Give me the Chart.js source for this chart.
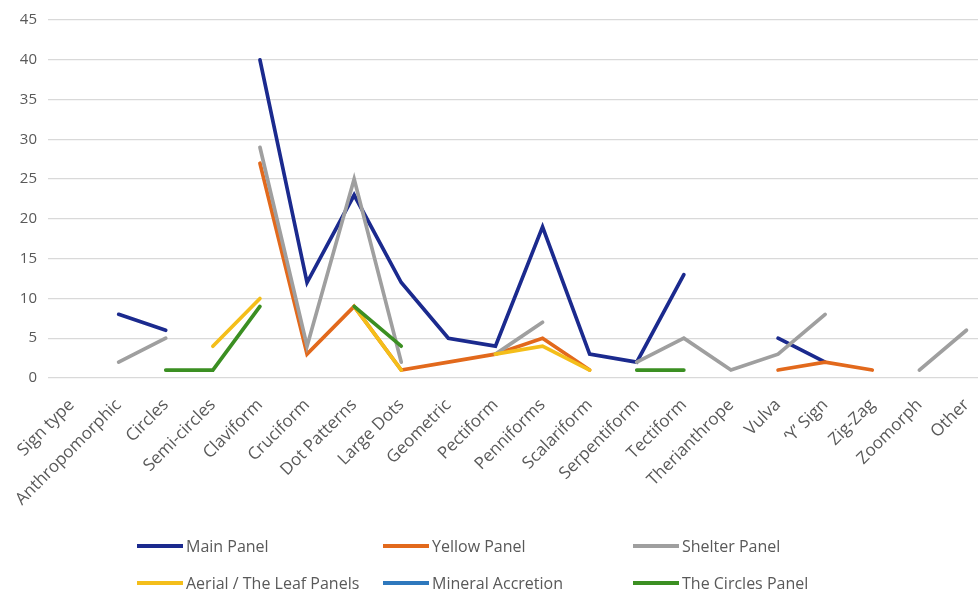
<!DOCTYPE html>
<html>
<head>
<meta charset="utf-8">
<script src="https://cdn.jsdelivr.net/npm/chart.js@4.4.1/dist/chart.umd.min.js"></script>
<style>
  html, body { margin: 0; padding: 0; background: #fff; overflow: hidden; }
  #wrap { position: relative; width: 978px; height: 597px; overflow: hidden; }
  canvas { position: absolute; left: 0; top: 0; }
  .leg { position: absolute; font-family: "Open Sans", sans-serif; font-size: 16px; color: #595959; white-space: nowrap; }
  .leg span.sw { position: absolute; left: 0; top: 50%; width: 46px; height: 4px; margin-top: -2px; }
  .leg span.tx { position: absolute; left: 49px; top: 50%; transform: translateY(-50%); line-height: 1; }
</style>
</head>
<body>
<div id="wrap">
  <canvas id="c" width="1000" height="597"></canvas>
  <div id="legend"></div>
</div>
<script>
const categories = ["Sign type","Anthropomorphic","Circles","Semi-circles","Claviform","Cruciform","Dot Patterns","Large Dots","Geometric","Pectiform","Penniforms","Scalariform","Serpentiform","Tectiform","Therianthrope","Vulva","\u2018Y\u2019 Sign","Zig-Zag","Zoomorph","Other"];
const mainPanel    = [null, 8, 6, null, 40, 12, 23, 12, 5, 4, 19, 3, 2, 13, null, 5, 2, null, null, null];
const yellowPanel  = [null, null, null, null, 27, 3, 9, 1, 2, 3, 5, 1, null, null, null, 1, 2, 1, null, null];
const shelterPanel = [null, 2, 5, null, 29, 4, 25, 2, null, 3, 7, null, 2, 5, 1, 3, 8, null, 1, 6];
const aerialLeaf   = [null, null, null, 4, 10, null, 9, 1, null, 3, 4, 1, null, null, null, null, null, null, null, null];
const mineralAccretion = [null, null, null, null, null, null, null, null, null, null, null, null, null, null, null, null, null, null, null, null];
const circlesPanel = [null, null, 1, 1, 9, null, 9, 4, null, null, null, null, 1, 1, null, null, null, null, null, null];
const seriesNames = ["Main Panel","Yellow Panel","Shelter Panel","Aerial / The Leaf Panels","Mineral Accretion","The Circles Panel"];
const yTicks = [0,5,10,15,20,25,30,35,40,45];

const seriesData = [mainPanel, yellowPanel, shelterPanel, aerialLeaf, mineralAccretion, circlesPanel];
const colors = ["#1b2a8e","#e2691c","#9f9f9f","#f4be1a","#2e78bd","#3b8f22"];

const datasets = seriesData.map((d, i) => ({
  label: seriesNames[i],
  data: d,
  borderColor: colors[i],
  backgroundColor: colors[i],
  borderWidth: 3.7,
  pointRadius: 0,
  pointHoverRadius: 0,
  tension: 0,
  spanGaps: false,
  fill: false,
  order: seriesData.length - i,
  borderCapStyle: 'round'
}));

new Chart(document.getElementById('c'), {
  type: 'line',
  data: { labels: categories, datasets },
  options: {
    responsive: false,
    animation: false,
    devicePixelRatio: 1,
    layout: { padding: { top: 20, right: 10, left: 0, bottom: 0 } },
    plugins: { legend: { display: false }, tooltip: { enabled: false } },
    scales: {
      x: {
        offset: true,
        grid: { display: false, drawTicks: false },
        border: { display: false },
        ticks: {
          autoSkip: false, minRotation: 45, maxRotation: 45, padding: 17,
          color: '#595959', font: { family: 'Open Sans', size: 17 }
        },
        afterFit: (s) => { s.height = 219; }
      },
      y: {
        min: 0, max: 45,
        afterBuildTicks: (s) => { s.ticks = yTicks.map(v => ({ value: v })); },
        grid: { color: '#d9d9d9', lineWidth: 1.3, drawTicks: false },
        border: { display: false },
        ticks: { padding: 11, color: '#595959', font: { family: 'Open Sans', size: 15 } },
        afterFit: (s) => { s.width = 48; }
      }
    }
  }
});

// legend (HTML, real text)
const legPos = [[137,546],[383,546],[633,546],[137,583],[383,583],[633,583]];
const legend = document.getElementById('legend');
seriesNames.forEach((n, i) => {
  const d = document.createElement('div');
  d.className = 'leg';
  d.style.left = legPos[i][0] + 'px';
  d.style.top = (legPos[i][1] - 12) + 'px';
  d.style.height = '24px';
  d.style.width = '240px';
  d.innerHTML = '<span class="sw" style="background:' + colors[i] + '"></span><span class="tx">' + n + '</span>';
  legend.appendChild(d);
});
</script>
</body>
</html>
